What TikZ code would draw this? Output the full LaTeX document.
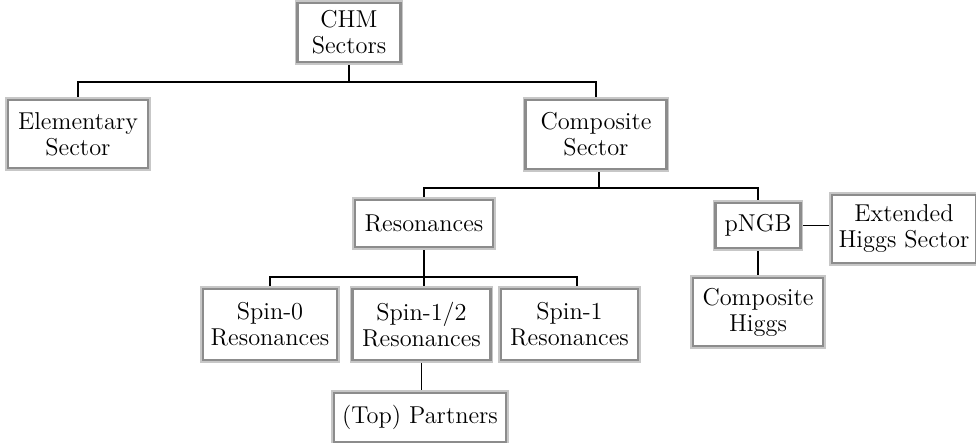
\documentclass[tikz,border=0pt]{standalone}
\usetikzlibrary{backgrounds}
\tikzset{
  box/.style={draw=black!45, line width=1.1pt, fill=white, inner sep=0pt, align=center,
    font=\fontsize{12.2}{13}\selectfont, preaction={draw=black!22, line width=2.6pt}},
  conn/.style={line width=0.6pt, black}
}
\begin{document}
\begin{tikzpicture}[x=0.5pt, y=-0.5pt]
\useasboundingbox (0,0) rectangle (976,443);
\node[box, minimum width=51.5pt, minimum height=29.5pt] (chm) at (349,32.5) {CHM\\Sectors};
\node[box, minimum width=70pt, minimum height=34pt] (elem) at (78,134) {Elementary\\Sector};
\node[box, minimum width=70.5pt, minimum height=34.5pt] (comp) at (596,134.5) {Composite\\Sector};
\node[box, minimum width=69pt, minimum height=23.5pt] (res) at (424,223.5) {Resonances};
\node[box, minimum width=42.5pt, minimum height=22.5pt] (pngb) at (758,225.5) {pNGB};
\node[box, minimum width=72pt, minimum height=34pt] (ext) at (904,229) {Extended\\Higgs Sector};
\node[box, minimum width=65pt, minimum height=34pt] (chig) at (758,312) {Composite\\Higgs};
\node[box, minimum width=67pt, minimum height=35.5pt] (s0) at (270,324.5) {Spin-0\\Resonances};
\node[box, minimum width=69pt, minimum height=35.5pt] (s12) at (421.5,324.5) {Spin-1/2\\Resonances};
\node[box, minimum width=68.5pt, minimum height=35.5pt] (s1) at (569.5,324.5) {Spin-1\\Resonances};
\node[box, minimum width=86pt, minimum height=24.5pt] (top) at (420,417.5) {(Top) Partners};
\begin{pgfonlayer}{background}
\draw[conn] (chm.south) -- ++(0,19) coordinate (j1) -| (elem.north);
\draw[conn] (j1) -| (comp.north);
\draw[conn] ([xshift=1.5pt]comp.south) -- ++(0,18) coordinate (j2) -| (res.north);
\draw[conn] (j2) -| (pngb.north);
\draw[conn] (res.south) -- ++(0,29) coordinate (j3) -| (s0.north);
\draw[conn] (j3) -| ([xshift=3.75pt]s1.north);
\draw[conn] (j3) -- (j3 |- s12.north);
\draw[conn] (s12.south) -- (s12.south |- top.north);
\draw[conn] (pngb.east) -- (pngb.east -| ext.west);
\draw[conn] (pngb.south) -- (chig.north);
\end{pgfonlayer}
\end{tikzpicture}
\end{document}
